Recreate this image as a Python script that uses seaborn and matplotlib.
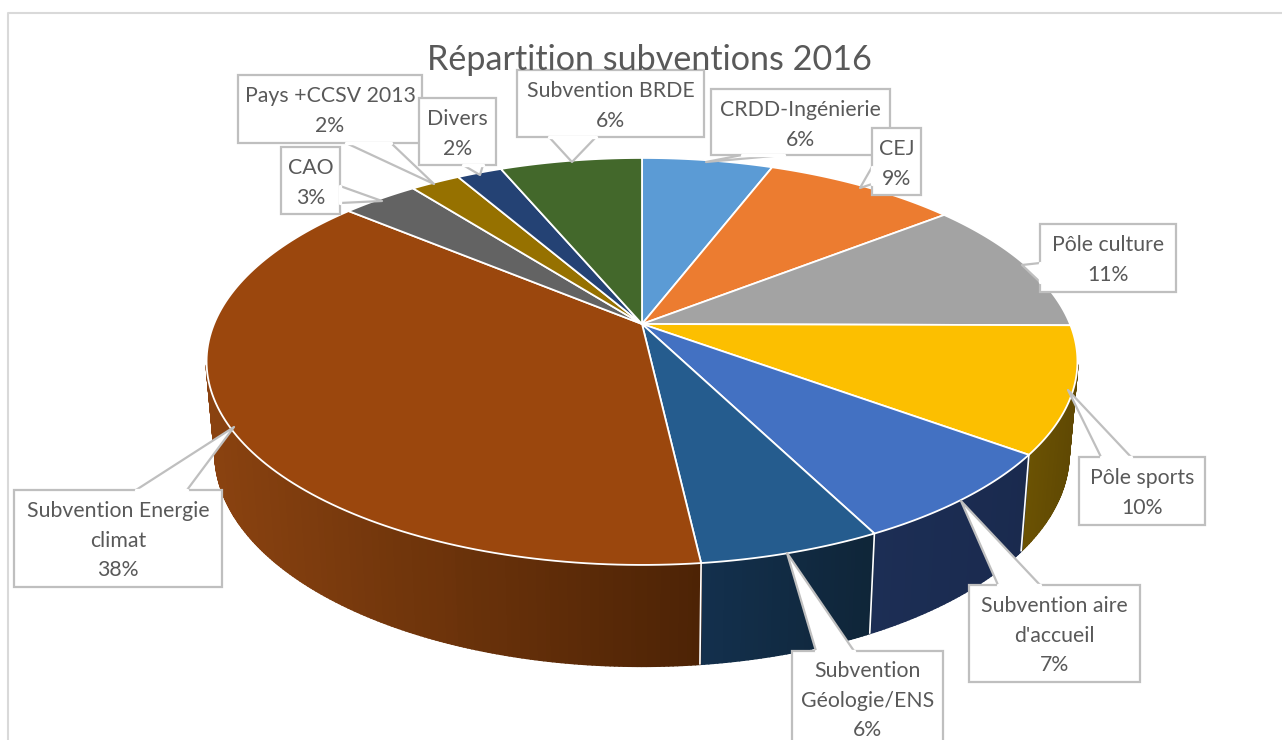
import numpy as np
import seaborn as sns
import matplotlib.pyplot as plt
from matplotlib.collections import PolyCollection

title = 'Répartition subventions 2016'
categories = ['CRDD-Ingénierie', 'CEJ', 'Pôle culture', 'Pôle sports',
              "Subvention aire\nd'accueil", 'Subvention\nGéologie/ENS',
              'Subvention Energie\nclimat', 'CAO', 'Pays +CCSV 2013',
              'Divers', 'Subvention BRDE']
shares = [5.8, 8.6, 10.7, 10.0, 7.4, 5.7, 37.9, 3.4, 2.2, 2.0, 6.3]

top_colors = ['#5b9bd5', '#ec7c30', '#a3a3a3', '#fcbf00', '#4371c2', '#255c8e',
              '#9b470d', '#636363', '#967100', '#244274', '#43682b']
# side shading, left to right across the rim
side_colors = [('#3a6186', '#3a6186'), ('#8a4a1d', '#8a4a1d'), ('#626262', '#626262'),
               ('#6b5203', '#5f4803'), ('#1c2e55', '#1a2a4e'), ('#13304d', '#0f2538'),
               ('#8a4210', '#4c2305'), ('#3b3b3b', '#3b3b3b'), ('#5b4500', '#5b4500'),
               ('#172a4a', '#172a4a'), ('#283e19', '#283e19')]

# label box (left, top, right, bottom) and callout pointer (tip, base a, base b)
boxes = [(711, 89, 890, 155), (872, 128, 921, 195), (1040, 224, 1176, 292),
         (1079, 457, 1205, 525), (969, 585, 1140, 682), (792, 651, 943, 760),
         (14, 490, 222, 587), (281, 147, 340, 214), (238, 75, 422, 143),
         (419, 98, 496, 165), (517, 70, 704, 137)]
pointers = [((706, 162), (742, 155), (784, 155)), ((860, 188), (872, 167), (872, 184)),
            ((1022, 265), (1040, 263), (1040, 282)), ((1068, 390), (1101, 457), (1131, 457)),
            ((961, 501), (998, 585), (1040, 585)), ((787, 553), (816, 651), (854, 651)),
            ((234, 427), (136, 490), (187, 490)), ((382, 201), (340, 186), (340, 203)),
            ((434, 184), (346, 143), (391, 143)), ((480, 175), (463, 165), (483, 165)),
            ((572, 162), (549, 137), (596, 137))]
# drawing order of the labels, later ones sit on top
label_order = [10, 0, 1, 8, 9, 7, 2, 3, 4, 5, 6]

CX, CY = 642, 324
A, B, K = 428, 196.6, 0.184


def top_xy(theta):
    # perspective projection of the pie's top disc
    u, v = np.sin(theta), -np.cos(theta)
    w = 1 - K * v
    return CX + A * u / w, CY + B * v / w


def bottom_xy(theta):
    x, y = top_xy(theta)
    return CX + 0.98 * (x - CX), CY + 90 + 1.046 * (y - CY)


sns.set_theme(style='white')
plt.rcParams['font.family'] = ['Lato', 'DejaVu Sans']

fig = plt.figure(figsize=(12.82, 7.4), dpi=100)
ax = fig.add_axes([0, 0, 1, 1])
ax.set_xlim(0, 1282)
ax.set_ylim(740, 0)
ax.axis('off')

# chart frame
ax.plot([8, 8, 1282], [740, 12.5, 12.5], color='#d9d9d9', lw=1.5, zorder=1)
ax.text(649.5, 60, title, ha='center', va='center', fontsize=24.6, color='#595959', zorder=6)

edges = np.radians(np.concatenate([[0], np.cumsum(shares)]) * 3.6)

# rim, back to front
strips, strip_colors, depth = [], [], []
for i in range(len(shares)):
    n = max(int(np.degrees(edges[i + 1] - edges[i]) * 2), 2)
    ts = np.linspace(edges[i], edges[i + 1], n + 1)
    xa, _ = top_xy(ts)
    ramp = sns.blend_palette(side_colors[i], 64)
    lo, hi = xa.min(), xa.max()
    for t0, t1 in zip(ts[:-1], ts[1:]):
        if -np.cos((t0 + t1) / 2) < 0.2:
            continue
        strips.append([top_xy(t0), top_xy(t1), bottom_xy(t1), bottom_xy(t0)])
        xm = (top_xy(t0)[0] + top_xy(t1)[0]) / 2
        strip_colors.append(ramp[int((xm - lo) / max(hi - lo, 1) * 63)])
        depth.append(-np.cos((t0 + t1) / 2))
order = np.argsort(depth)
ax.add_collection(PolyCollection([strips[j] for j in order],
                                 facecolors=[strip_colors[j] for j in order],
                                 edgecolors=[strip_colors[j] for j in order],
                                 linewidths=1.6, zorder=2))
for e in edges[4:7]:
    p, q = top_xy(e), bottom_xy(e)
    ax.plot([p[0], q[0]], [p[1], q[1]], color='white', lw=1.2, zorder=2.5)

# top disc
for i in range(len(shares)):
    ts = np.linspace(edges[i], edges[i + 1], 120)
    xs, ys = top_xy(ts)
    ax.fill(np.r_[CX, xs], np.r_[CY, ys], facecolor=top_colors[i],
            edgecolor='white', lw=1.3, joinstyle='round', zorder=3)

# callouts
for i in label_order:
    left, top, right, bottom = boxes[i]
    tip, a, b = pointers[i]
    ax.fill([left, right, right, left], [top, top, bottom, bottom], facecolor='white',
            edgecolor='#bfbfbf', lw=1.6, zorder=4 + label_order.index(i) * 0.01, clip_on=True)
    z = 4 + label_order.index(i) * 0.01 + 0.001
    ax.fill([a[0], tip[0], b[0]], [a[1], tip[1], b[1]], facecolor='white', edgecolor='none', zorder=z)
    ax.plot([a[0], tip[0], b[0]], [a[1], tip[1], b[1]], color='#bfbfbf', lw=1.6, zorder=z)
    # keep the join between pointer and box open
    ax.plot([a[0], b[0]], [a[1], b[1]], color='white', lw=2.4, zorder=z)
    lines = categories[i].split('\n') + [f'{shares[i]:.0f}%']
    mid = (left + right) / 2
    first = top + 21
    if i == 5:
        first = 671
    for k, line in enumerate(lines):
        ax.text(mid, first + 29.7 * k, line, ha='center', va='center', fontsize=15.3,
                color='#595959', zorder=z + 0.001)

fig.savefig('out.png', dpi=100)
